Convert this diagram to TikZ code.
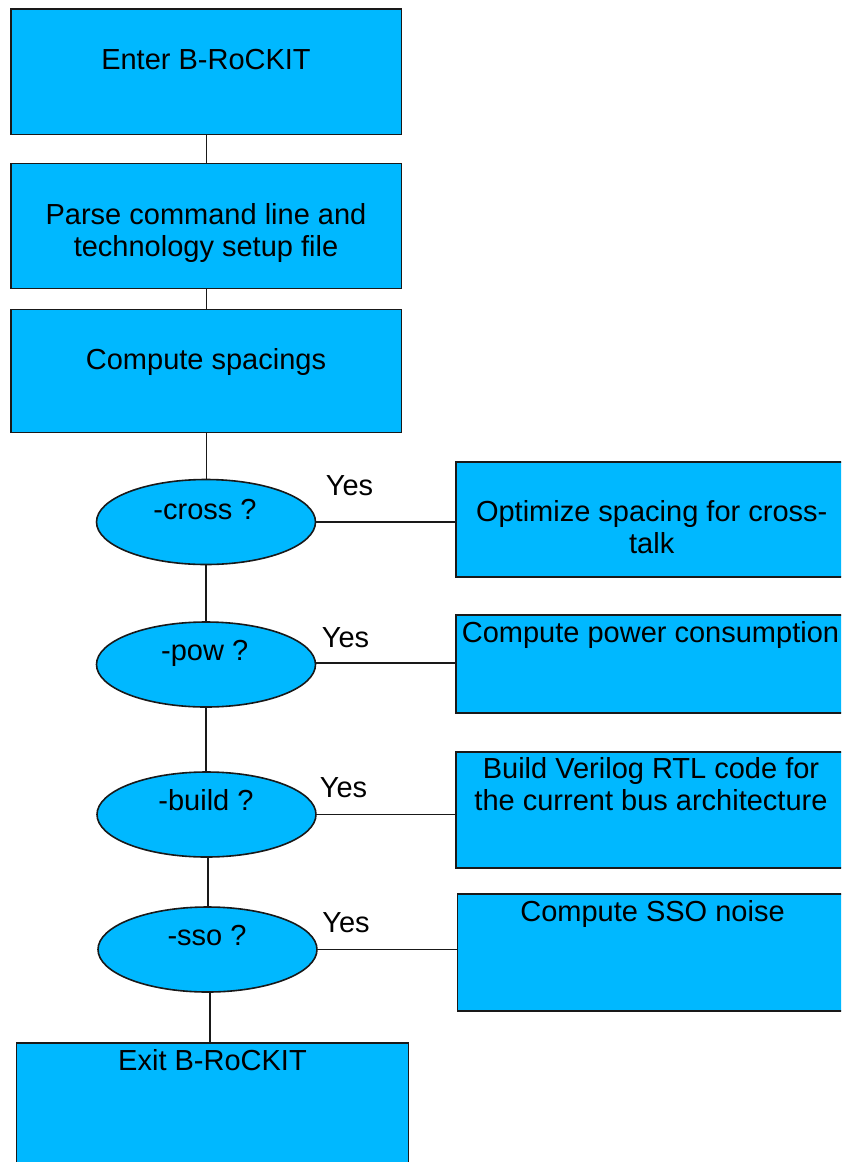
\documentclass[tikz,border=0pt]{standalone}
\usepackage{fontspec}
\setmainfont{Liberation Sans}
\usetikzlibrary{shapes.geometric}
\definecolor{boxblue}{RGB}{0,184,255}
\tikzset{
  procbox/.style={draw=black!90, line width=1.6pt, fill=boxblue, rectangle, inner sep=0pt},
  decision/.style={draw=black!90, line width=1.6pt, fill=boxblue, ellipse, inner sep=0pt, minimum width=219pt, minimum height=85pt},
  txt/.style={inner sep=0pt, anchor=base, align=center, font=\fontsize{29}{32}\selectfont},
  link/.style={draw=black!90, line width=1.6pt}
}
\begin{document}
\begin{tikzpicture}[x=1pt,y=-1pt]
\useasboundingbox (0,0) rectangle (841,1162);
\clip (0,0) rectangle (841,1162);
\fill[white] (0,0) rectangle (841,1162);
% left column boxes
\node[procbox, minimum width=390.7pt, minimum height=125.3pt] (enter) at (206.3,71.7) {};
\node[procbox, minimum width=390.7pt, minimum height=125pt] (parse) at (206.3,225.8) {};
\node[procbox, minimum width=390.7pt, minimum height=123pt] (spacing) at (206.3,371) {};
\node[procbox, minimum width=391.7pt, minimum height=130pt] (exit) at (212.5,1107.7) {};
% decisions
\node[decision] (cross) at (206,522) {};
\node[decision] (pow) at (206,664.5) {};
\node[decision] (build) at (206.5,814.5) {};
\node[decision] (sso) at (207.5,949.5) {};
% right boxes
\node[procbox, minimum width=392pt, minimum height=115pt] (opt) at (652,519.2) {};
\node[procbox, minimum width=392pt, minimum height=97.7pt] (power) at (652,663.9) {};
\node[procbox, minimum width=392pt, minimum height=116pt] (verilog) at (652,809.7) {};
\node[procbox, minimum width=392pt, minimum height=116.7pt] (ssonoise) at (653.3,952.4) {};
% texts
\node[txt] (tenter) at (206,69) {Enter B-RoCKIT};
\node[txt] (tparse) at (206,256) {Parse command line and\\technology setup file};
\node[txt] (tspacing) at (206,369) {Compute spacings};
\node[txt] (texit) at (212.5,1070) {Exit B-RoCKIT};
\node[txt] (tcross) at (205,519.3) {-cross ?};
\node[txt] (tpow) at (204.7,660) {-pow ?};
\node[txt] (tbuild) at (206,810.7) {-build ?};
\node[txt] (tsso) at (207,945) {-sso ?};
\node[txt] (topt) at (651.7,553.5) {Optimize spacing for cross-\\talk};
\node[txt] (tpower) at (650.5,642) {Compute power consumption};
\node[txt] (tverilog) at (651,810.5) {Build Verilog RTL code for\\the current bus architecture};
\node[txt] (tsso2) at (652.5,921) {Compute SSO noise};
\node[txt] (yes1) at (349.5,495) {Yes};
\node[txt] (yes2) at (345.5,647) {Yes};
\node[txt] (yes3) at (343.5,797) {Yes};
\node[txt] (yes4) at (346,932) {Yes};
% connectors
\draw[link] (enter.south) -- (parse.north);
\draw[link] (parse.south) -- (spacing.north);
\draw[link] (spacing.south) -- (spacing.south |- cross.north);
\draw[link] (cross.south) -- (cross.south |- pow.north);
\draw[link] (pow.south) -- (pow.south |- build.north);
\draw[link] (build.south) ++(1.2pt,0) coordinate (bs) -- (bs |- sso.north);
\draw[link] (sso.south) ++(2.5pt,0) coordinate (ss) -- (ss |- exit.north);
\draw[link] (cross.east) -- (cross.east -| opt.west);
\draw[link] (pow.east) ++(0,1.5pt) coordinate (pe) -- (pe -| power.west);
\draw[link] (build.east) -- (build.east -| verilog.west);
\draw[link] (sso.east) -- (sso.east -| ssonoise.west);
\end{tikzpicture}
\end{document}
